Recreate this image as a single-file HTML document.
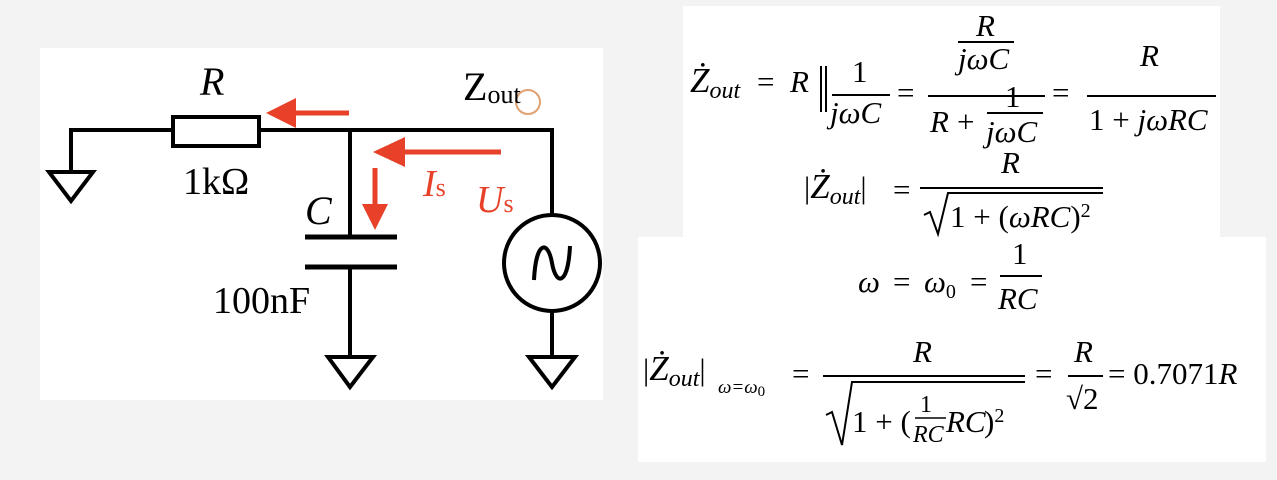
<!DOCTYPE html>
<html><head><meta charset="utf-8"><style>
html,body{margin:0;padding:0;background:#f3f3f3;}
svg{display:block}
text{font-family:"Liberation Serif",serif;}
.m text{font-size:31px;}
.i{font-style:italic;}
</style></head><body>
<svg width="1277" height="480" viewBox="0 0 1277 480" xmlns="http://www.w3.org/2000/svg">
<rect x="0" y="0" width="1277" height="480" fill="#f3f3f3"/>
<rect x="40" y="48" width="563" height="352" fill="#fff"/>
<rect x="683" y="6" width="537" height="232" fill="#fff"/>
<rect x="638" y="237" width="628" height="225" fill="#fff"/>

<g stroke="#000" stroke-width="4" fill="none">
<polyline points="71,172 71,130 552,130 552,215"/>
<rect x="173" y="117" width="86" height="29" fill="#fff"/>
<line x1="350" y1="130" x2="350" y2="237"/>
<line x1="305" y1="237" x2="397" y2="237" stroke-width="5"/>
<line x1="305" y1="267" x2="397" y2="267" stroke-width="5"/>
<line x1="350" y1="267" x2="350" y2="357"/>
<polygon points="49,172 93,172 71,201"/>
<polygon points="328,357 373,357 350,387"/>
<circle cx="552" cy="263" r="48"/>
<path d="M534,280 C536,240 548,240 552,263 C556,286 568,286 570,246"/>
<line x1="552" y1="311" x2="552" y2="357"/>
<polygon points="529,357 575,357 552,387"/>
</g>
<g fill="#e8412a" stroke="#e8412a">
<line x1="349" y1="113" x2="290" y2="113" stroke-width="5"/>
<polygon points="266,113 296,98 296,128" stroke="none"/>
<line x1="501" y1="152" x2="400" y2="152" stroke-width="5"/>
<polygon points="373,152 405,137 405,167" stroke="none"/>
<line x1="375" y1="168" x2="375" y2="208" stroke-width="5"/>
<polygon points="375,230 362,204 388,204" stroke="none"/>
</g>
<circle cx="528" cy="102" r="12" fill="none" stroke="#e0a070" stroke-width="2"/>

<text x="200" y="95" font-size="40" font-style="italic">R</text>
<text x="183" y="194" font-size="38">1kΩ</text>
<text x="305" y="224" font-size="40" font-style="italic">C</text>
<text x="213" y="313" font-size="38">100nF</text>
<text x="463" y="100" font-size="40">Z<tspan font-size="26" dy="3">out</tspan></text>
<text x="423" y="196" font-size="38" font-style="italic" fill="#e8412a">I<tspan font-size="26" font-style="normal">s</tspan></text>
<text x="476" y="212" font-size="38" font-style="italic" fill="#e8412a">U<tspan font-size="26" font-style="normal">s</tspan></text>

<g class="m">
<!-- line 1 -->
<text x="690" y="92" class="i"><tspan style="font-size:35px">Ż</tspan><tspan style="font-size:24px" dy="6">out</tspan></text>
<text x="757" y="92">=</text>
<text x="790" y="92" class="i">R</text>
<line x1="821" y1="66" x2="821" y2="112" stroke="#000" stroke-width="2"/>
<line x1="826" y1="66" x2="826" y2="112" stroke="#000" stroke-width="2"/>
<text x="852" y="82">1</text>
<line x1="832" y1="95" x2="890" y2="95" stroke="#000" stroke-width="2"/>
<text x="830" y="123" class="i">jωC</text>
<text x="897" y="103">=</text>
<text x="976" y="36" class="i">R</text>
<line x1="958" y1="42" x2="1014" y2="42" stroke="#000" stroke-width="2"/>
<text x="958" y="69" class="i">jωC</text>
<line x1="928" y1="96" x2="1045" y2="96" stroke="#000" stroke-width="2"/>
<text x="930" y="132" class="i">R</text><text x="957" y="132">+</text>
<text x="1005" y="107">1</text>
<line x1="987" y1="113" x2="1043" y2="113" stroke="#000" stroke-width="2"/>
<text x="986" y="142" class="i">jωC</text>
<text x="1052" y="103">=</text>
<text x="1140" y="66" class="i">R</text>
<line x1="1087" y1="96" x2="1216" y2="96" stroke="#000" stroke-width="2"/>
<text x="1089" y="130">1 + <tspan class="i">jωRC</tspan></text>

<!-- line 2 -->
<text x="804" y="198">|<tspan class="i" style="font-size:35px">Ż</tspan><tspan style="font-size:24px" class="i" dy="6">out</tspan><tspan dy="-6">|</tspan></text>
<text x="893" y="200">=</text>
<text x="1001" y="173" class="i">R</text>
<line x1="920" y1="188" x2="1103" y2="188" stroke="#000" stroke-width="2"/>
<path d="M924,215 L930,212 L938,234 L948,193 L1103,193" fill="none" stroke="#000" stroke-width="2"/>
<text x="950" y="227">1 + (<tspan class="i">ωRC</tspan>)<tspan style="font-size:20px" dy="-10">2</tspan></text>

<!-- line 3 -->
<text x="858" y="292" class="i">ω</text>
<text x="893" y="292">=</text>
<text x="924" y="292" class="i">ω<tspan style="font-size:20px;font-style:normal" dy="6">0</tspan></text>
<text x="970" y="292">=</text>
<text x="1012" y="264">1</text>
<line x1="1000" y1="276" x2="1042" y2="276" stroke="#000" stroke-width="2"/>
<text x="998" y="309" class="i">RC</text>

<!-- line 4 -->
<text x="643" y="380">|<tspan class="i" style="font-size:35px">Ż</tspan><tspan style="font-size:24px" class="i" dy="6">out</tspan><tspan dy="-6">|</tspan></text>
<text x="718" y="393" style="font-size:19px" class="i">ω=ω<tspan style="font-size:15px;font-style:normal" dy="3">0</tspan></text>
<text x="792" y="384">=</text>
<text x="913" y="362" class="i">R</text>
<line x1="823" y1="376" x2="1025" y2="376" stroke="#000" stroke-width="2"/>
<path d="M826,415 L832,412 L842,445 L852,382 L1025,382" fill="none" stroke="#000" stroke-width="2"/>
<text x="852" y="432">1 + (</text>
<text x="920" y="412" style="font-size:24px">1</text>
<line x1="915" y1="418" x2="946" y2="418" stroke="#000" stroke-width="1.5"/>
<text x="913" y="442" style="font-size:24px" class="i">RC</text>
<text x="946" y="432" class="i">RC</text><text x="984" y="432">)<tspan style="font-size:20px" dy="-10">2</tspan></text>
<text x="1035" y="384">=</text>
<text x="1074" y="362" class="i">R</text>
<line x1="1068" y1="376" x2="1103" y2="376" stroke="#000" stroke-width="2"/>
<text x="1066" y="409">√2</text>
<text x="1108" y="384">= 0.7071<tspan class="i">R</tspan></text>
</g>
</svg>
</body></html>
